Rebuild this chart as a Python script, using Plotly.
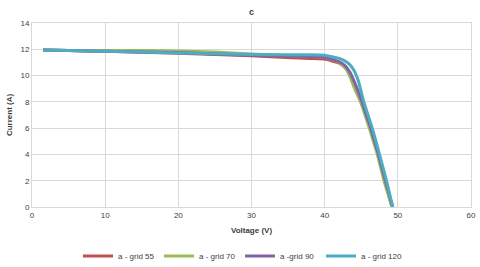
import plotly.graph_objects as go

names = ["a - grid 55", "a - grid 70", "a -grid 90", "a - grid 120"]
colors = ["#C0504D", "#9BBB59", "#8064A2", "#4BACC6"]

v55 = [1.5, 5, 10, 20, 30, 38, 40, 42, 42.8, 43.4, 44.2, 45.0, 46.2, 47.3, 48.2, 49.2]
i55 = [11.95, 11.9, 11.85, 11.7, 11.5, 11.3, 11.25, 10.95, 10.6, 10.1, 9.0, 8.0, 6.0, 4.0, 2.0, 0.0]

v70 = [1.5, 5, 10, 15, 20, 25, 30, 38, 40, 42, 42.8, 43.4, 44.1, 44.9, 46.1, 47.2, 48.1, 49.2]
i70 = [11.95, 11.9, 11.9, 11.9, 11.87, 11.8, 11.65, 11.45, 11.4, 11.0, 10.6, 10.0, 9.0, 8.0, 6.0, 4.0, 2.0, 0.0]

v90 = [1.5, 5, 10, 20, 30, 38, 40, 42, 42.8, 43.4, 44.3, 45.1, 46.3, 47.35, 48.3, 49.3]
i90 = [11.95, 11.9, 11.85, 11.75, 11.55, 11.45, 11.4, 11.05, 10.75, 10.3, 9.2, 8.0, 6.0, 4.0, 2.0, 0.0]

v120 = [1.5, 5, 10, 20, 30, 38, 40, 42, 42.8, 43.4, 44.0, 44.6, 45.35, 46.5, 47.5, 48.45, 49.3]
i120 = [11.95, 11.9, 11.85, 11.72, 11.6, 11.58, 11.55, 11.3, 11.1, 10.85, 10.4, 9.6, 8.0, 6.0, 4.0, 2.0, 0.0]

series = [(v55, i55), (v70, i70), (v90, i90), (v120, i120)]

fig = go.Figure()
for (v, i), n, c in zip(series, names, colors):
    fig.add_trace(go.Scatter(x=v, y=i, mode="lines", name=n,
                             line=dict(color=c, width=3, shape="spline", smoothing=0.3)))

font = "Liberation Sans"
txt = "#404040"
fig.update_layout(
    width=480, height=267,
    margin=dict(l=32, r=9, t=23, b=60, autoexpand=False),
    paper_bgcolor="white", plot_bgcolor="white",
    font=dict(family=font, size=8, color=txt),
    title=dict(text="<b>c</b>", x=0.5, xanchor="center", xref="paper",
               y=1 - 12 / 267, yref="container", yanchor="middle", automargin=False,
               font=dict(size=9, color=txt)),
    xaxis=dict(range=[0, 60], dtick=10, showgrid=True, gridcolor="#D9D9D9", gridwidth=1,
               zeroline=False, showline=True, linecolor="#D9D9D9", mirror=True,
               ticks="", tickfont=dict(size=8, color=txt), automargin=False,
               title=dict(text="<b>Voltage (V)</b>", font=dict(size=8, color=txt), standoff=8)),
    yaxis=dict(range=[0, 14], dtick=2, showgrid=True, gridcolor="#D9D9D9", gridwidth=1,
               zeroline=False, showline=True, linecolor="#D9D9D9", mirror=True,
               ticks="", tickfont=dict(size=8, color=txt), automargin=False,
               title=dict(text="<b>Current (A)</b>", font=dict(size=8, color=txt), standoff=6)),
    legend=dict(orientation="h", x=0.5, xanchor="center", xref="container",
                y=1 - 256 / 267, yref="container", yanchor="middle",
                font=dict(size=8, color=txt), itemwidth=30, entrywidth=36,
                entrywidthmode="pixels", tracegroupgap=0),
    showlegend=True,
)

fig.write_html("out.html", config={"displayModeBar": False},
               post_script="document.body.style.margin='0';document.body.style.overflow='hidden';")
